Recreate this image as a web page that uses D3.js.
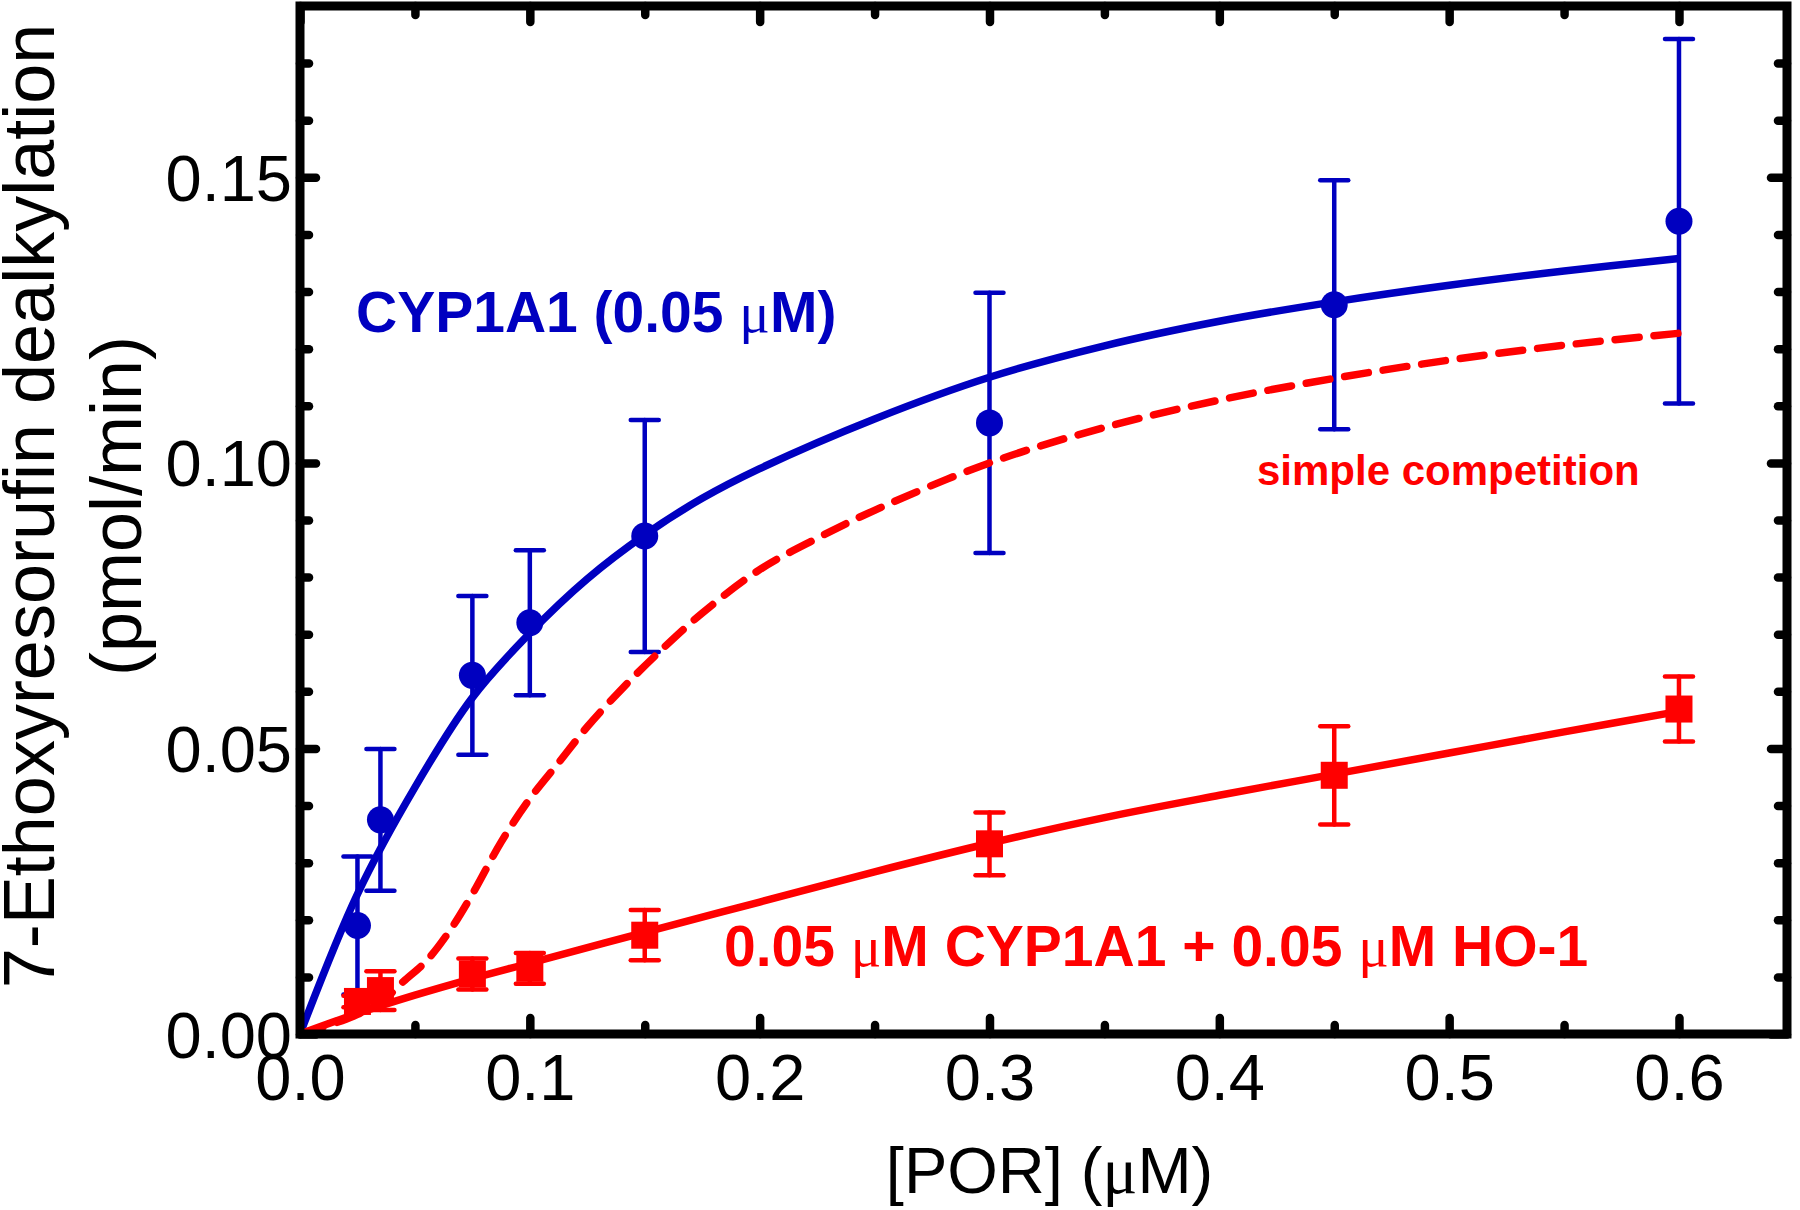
<!DOCTYPE html>
<html>
<head>
<meta charset="utf-8">
<script src="https://cdn.jsdelivr.net/npm/d3@7"></script>
<style>
  html, body { margin: 0; padding: 0; background: #ffffff; }
  svg { display: block; }
</style>
</head>
<body>
<svg id="chart" width="1800" height="1210"></svg>
<script>
// ---------------- data ----------------
const xMajorTicks = [0, 0.1, 0.2, 0.3, 0.4, 0.5, 0.6];
const xTickLabels = ["0.0", "0.1", "0.2", "0.3", "0.4", "0.5", "0.6"];
const xMinorTicks = [0.05, 0.15, 0.25, 0.35, 0.45, 0.55];
const yMajorTicks = [0, 0.05, 0.10, 0.15];
const yTickLabels = ["0.00", "0.05", "0.10", "0.15"];
const yMinorTicks = [0.01, 0.02, 0.03, 0.04, 0.06, 0.07, 0.08, 0.09,
                     0.11, 0.12, 0.13, 0.14, 0.16, 0.17];
const xDomain = [0, 0.647];
const yDomain = [0, 0.18];

// measured points: [POR] (uM)
const porConc = [0.025, 0.035, 0.075, 0.1, 0.15, 0.3, 0.45, 0.6];
// CYP1A1 alone (blue circles)
const cypMean = [0.0190, 0.0375, 0.0628, 0.0720, 0.0872, 0.1070, 0.1277, 0.1423];
const cypErr  = [0.0121, 0.0124, 0.0139, 0.0127, 0.0203, 0.0228, 0.0218, 0.0319];
// CYP1A1 + HO-1 (red squares)
const hoMean  = [0.0057, 0.0076, 0.0105, 0.0115, 0.0173, 0.0333, 0.0453, 0.0569];
const hoErr   = [0.0010, 0.0034, 0.0027, 0.0027, 0.0044, 0.0055, 0.0086, 0.0057];

// fitted curves
const cypFitX = [0, 0.025, 0.05, 0.075, 0.1, 0.125, 0.15, 0.175, 0.2, 0.25, 0.3, 0.35, 0.4, 0.45, 0.5, 0.55, 0.6];
const cypFitY = [0, 0.0245, 0.0432, 0.0589, 0.0702, 0.0797, 0.0874, 0.0938, 0.0990, 0.1077, 0.1150, 0.1205, 0.1248, 0.1282, 0.1311, 0.1336, 0.1358];
const hoFitX  = [0, 0.025, 0.05, 0.075, 0.1, 0.15, 0.2, 0.25, 0.3, 0.35, 0.4, 0.45, 0.5, 0.55, 0.6];
const hoFitY  = [0, 0.0036, 0.0068, 0.0097, 0.0124, 0.0178, 0.0231, 0.0284, 0.0334, 0.0379, 0.0418, 0.0455, 0.0492, 0.0529, 0.0565];
const compFitX = [0, 0.02, 0.035, 0.045, 0.055, 0.065, 0.075, 0.0875, 0.1, 0.1125, 0.125, 0.14, 0.155, 0.175, 0.2, 0.225, 0.25, 0.3, 0.35, 0.4, 0.45, 0.5, 0.55, 0.6];
const compFitY = [0, 0.0026, 0.0055, 0.0092, 0.0128, 0.0180, 0.0245, 0.0336, 0.0412, 0.0475, 0.0538, 0.0604, 0.0664, 0.0737, 0.0813, 0.0868, 0.0917, 0.1000, 0.1062, 0.1110, 0.1148, 0.1180, 0.1206, 0.1227];

// ---------------- styles ----------------
const BLUE = "#0000c0";
const RED = "#ff0000";
const SANS = "'Liberation Sans', Arial, Helvetica, sans-serif";
const SERIF = "'Liberation Serif', 'Times New Roman', serif";

const svg = d3.select("#chart");
const x = d3.scaleLinear().domain(xDomain).range([300, 1787]);
const y = d3.scaleLinear().domain(yDomain).range([1034, 6]);

const x0 = x.range()[0], x1 = x.range()[1];
const y0 = y.range()[0], y1 = y.range()[1];

// ---------------- axes (inward ticks on all sides) ----------------
function styleAxis(g) {
  g.select(".domain").remove();
  g.selectAll(".tick line")
    .attr("stroke", "#000").attr("stroke-width", 8.5).attr("stroke-linecap", "round");
}

// bottom major with labels
const gB = svg.append("g").attr("transform", `translate(0,${y0})`)
  .call(d3.axisBottom(x).tickValues(xMajorTicks).tickSize(-16)
        .tickFormat((d, i) => xTickLabels[i]));
styleAxis(gB);
gB.selectAll(".tick text")
  .attr("y", 66).attr("dy", 0)
  .attr("font-family", SANS).attr("font-size", 65).attr("fill", "#000");
svg.append("g").attr("transform", `translate(0,${y0})`)
  .call(d3.axisBottom(x).tickValues(xMinorTicks).tickSize(-9).tickFormat(""))
  .call(styleAxis);

// top
svg.append("g").attr("transform", `translate(0,${y1})`)
  .call(d3.axisTop(x).tickValues(xMajorTicks).tickSize(-16).tickFormat(""))
  .call(styleAxis);
svg.append("g").attr("transform", `translate(0,${y1})`)
  .call(d3.axisTop(x).tickValues(xMinorTicks).tickSize(-9).tickFormat(""))
  .call(styleAxis);

// left major with labels
const gL = svg.append("g").attr("transform", `translate(${x0},0)`)
  .call(d3.axisLeft(y).tickValues(yMajorTicks).tickSize(-16)
        .tickFormat((d, i) => yTickLabels[i]));
styleAxis(gL);
gL.selectAll(".tick text")
  .attr("x", -8).attr("dy", "0.355em")
  .attr("font-family", SANS).attr("font-size", 65).attr("fill", "#000");
svg.append("g").attr("transform", `translate(${x0},0)`)
  .call(d3.axisLeft(y).tickValues(yMinorTicks).tickSize(-9).tickFormat(""))
  .call(styleAxis);

// right
svg.append("g").attr("transform", `translate(${x1},0)`)
  .call(d3.axisRight(y).tickValues(yMajorTicks).tickSize(-16).tickFormat(""))
  .call(styleAxis);
svg.append("g").attr("transform", `translate(${x1},0)`)
  .call(d3.axisRight(y).tickValues(yMinorTicks).tickSize(-9).tickFormat(""))
  .call(styleAxis);

// ---------------- axis titles ----------------
const xt = svg.append("text")
  .attr("x", (x0 + x1) / 2 + 6).attr("y", 1193)
  .attr("text-anchor", "middle")
  .attr("font-family", SANS).attr("font-size", 65).attr("fill", "#000");
xt.append("tspan").text("[POR] (");
xt.append("tspan").attr("font-family", SERIF).text("\u03bc");
xt.append("tspan").text("M)");

const yMid = 506;
svg.append("text")
  .attr("transform", `translate(54,${yMid}) rotate(-90)`)
  .attr("text-anchor", "middle")
  .attr("font-family", SANS).attr("font-size", 72).attr("fill", "#000")
  .text("7-Ethoxyresorufin dealkylation");
svg.append("text")
  .attr("transform", `translate(140.5,${yMid}) rotate(-90)`)
  .attr("text-anchor", "middle")
  .attr("font-family", SANS).attr("font-size", 72).attr("fill", "#000")
  .text("(pmol/min)");

// ---------------- data layers ----------------
const plot = svg.append("g");

function errorBars(g, xs, means, errs, color) {
  const cap = 14;
  const eb = g.append("g").attr("stroke", color).attr("stroke-width", 4.5)
    .attr("stroke-linecap", "round");
  xs.forEach((xv, i) => {
    const xp = x(xv), yt = y(means[i] + errs[i]), yb = y(means[i] - errs[i]);
    eb.append("line").attr("x1", xp).attr("x2", xp).attr("y1", yt).attr("y2", yb);
    eb.append("line").attr("x1", xp - cap).attr("x2", xp + cap).attr("y1", yt).attr("y2", yt);
    eb.append("line").attr("x1", xp - cap).attr("x2", xp + cap).attr("y1", yb).attr("y2", yb);
  });
}

const lineGen = d3.line().x(d => x(d[0])).y(d => y(d[1])).curve(d3.curveCatmullRom.alpha(0.5));

// blue series
errorBars(plot, porConc, cypMean, cypErr, BLUE);
plot.append("path")
  .attr("d", lineGen(d3.zip(cypFitX, cypFitY)))
  .attr("fill", "none").attr("stroke", BLUE).attr("stroke-width", 7.5);
plot.append("g").selectAll("circle")
  .data(d3.zip(porConc, cypMean)).join("circle")
  .attr("cx", d => x(d[0])).attr("cy", d => y(d[1])).attr("r", 13.5)
  .attr("fill", BLUE);

// simple competition (dashed)
plot.append("path")
  .attr("d", lineGen(d3.zip(compFitX, compFitY)))
  .attr("fill", "none").attr("stroke", RED).attr("stroke-width", 7.5)
  .attr("stroke-dasharray", "24,15").attr("stroke-linecap", "round");

// red series
errorBars(plot, porConc, hoMean, hoErr, RED);
plot.append("path")
  .attr("d", lineGen(d3.zip(hoFitX, hoFitY)))
  .attr("fill", "none").attr("stroke", RED).attr("stroke-width", 7.5);
const sq = 27;
plot.append("g").selectAll("rect")
  .data(d3.zip(porConc, hoMean)).join("rect")
  .attr("x", d => x(d[0]) - sq / 2).attr("y", d => y(d[1]) - sq / 2)
  .attr("width", sq).attr("height", sq)
  .attr("fill", RED);

// ---------------- frame ----------------
svg.append("rect")
  .attr("x", x0).attr("y", y1).attr("width", x1 - x0).attr("height", y0 - y1)
  .attr("fill", "none").attr("stroke", "#000").attr("stroke-width", 9);

// ---------------- annotations ----------------
const a1 = svg.append("text").attr("x", 356).attr("y", 332)
  .attr("font-family", SANS).attr("font-weight", "bold").attr("font-size", 57).attr("fill", BLUE);
a1.append("tspan").text("CYP1A1 (0.05 ");
a1.append("tspan").attr("font-family", SERIF).attr("font-weight", "normal").text("\u03bc");
a1.append("tspan").text("M)");

svg.append("text").attr("x", 1257).attr("y", 485)
  .attr("font-family", SANS).attr("font-weight", "bold").attr("font-size", 42).attr("fill", RED)
  .text("simple competition");

const a3 = svg.append("text").attr("x", 724).attr("y", 966)
  .attr("font-family", SANS).attr("font-weight", "bold").attr("font-size", 57).attr("fill", RED);
a3.append("tspan").text("0.05 ");
a3.append("tspan").attr("font-family", SERIF).attr("font-weight", "normal").text("\u03bc");
a3.append("tspan").text("M CYP1A1 + 0.05 ");
a3.append("tspan").attr("font-family", SERIF).attr("font-weight", "normal").text("\u03bc");
a3.append("tspan").text("M HO-1");
</script>
</body>
</html>
